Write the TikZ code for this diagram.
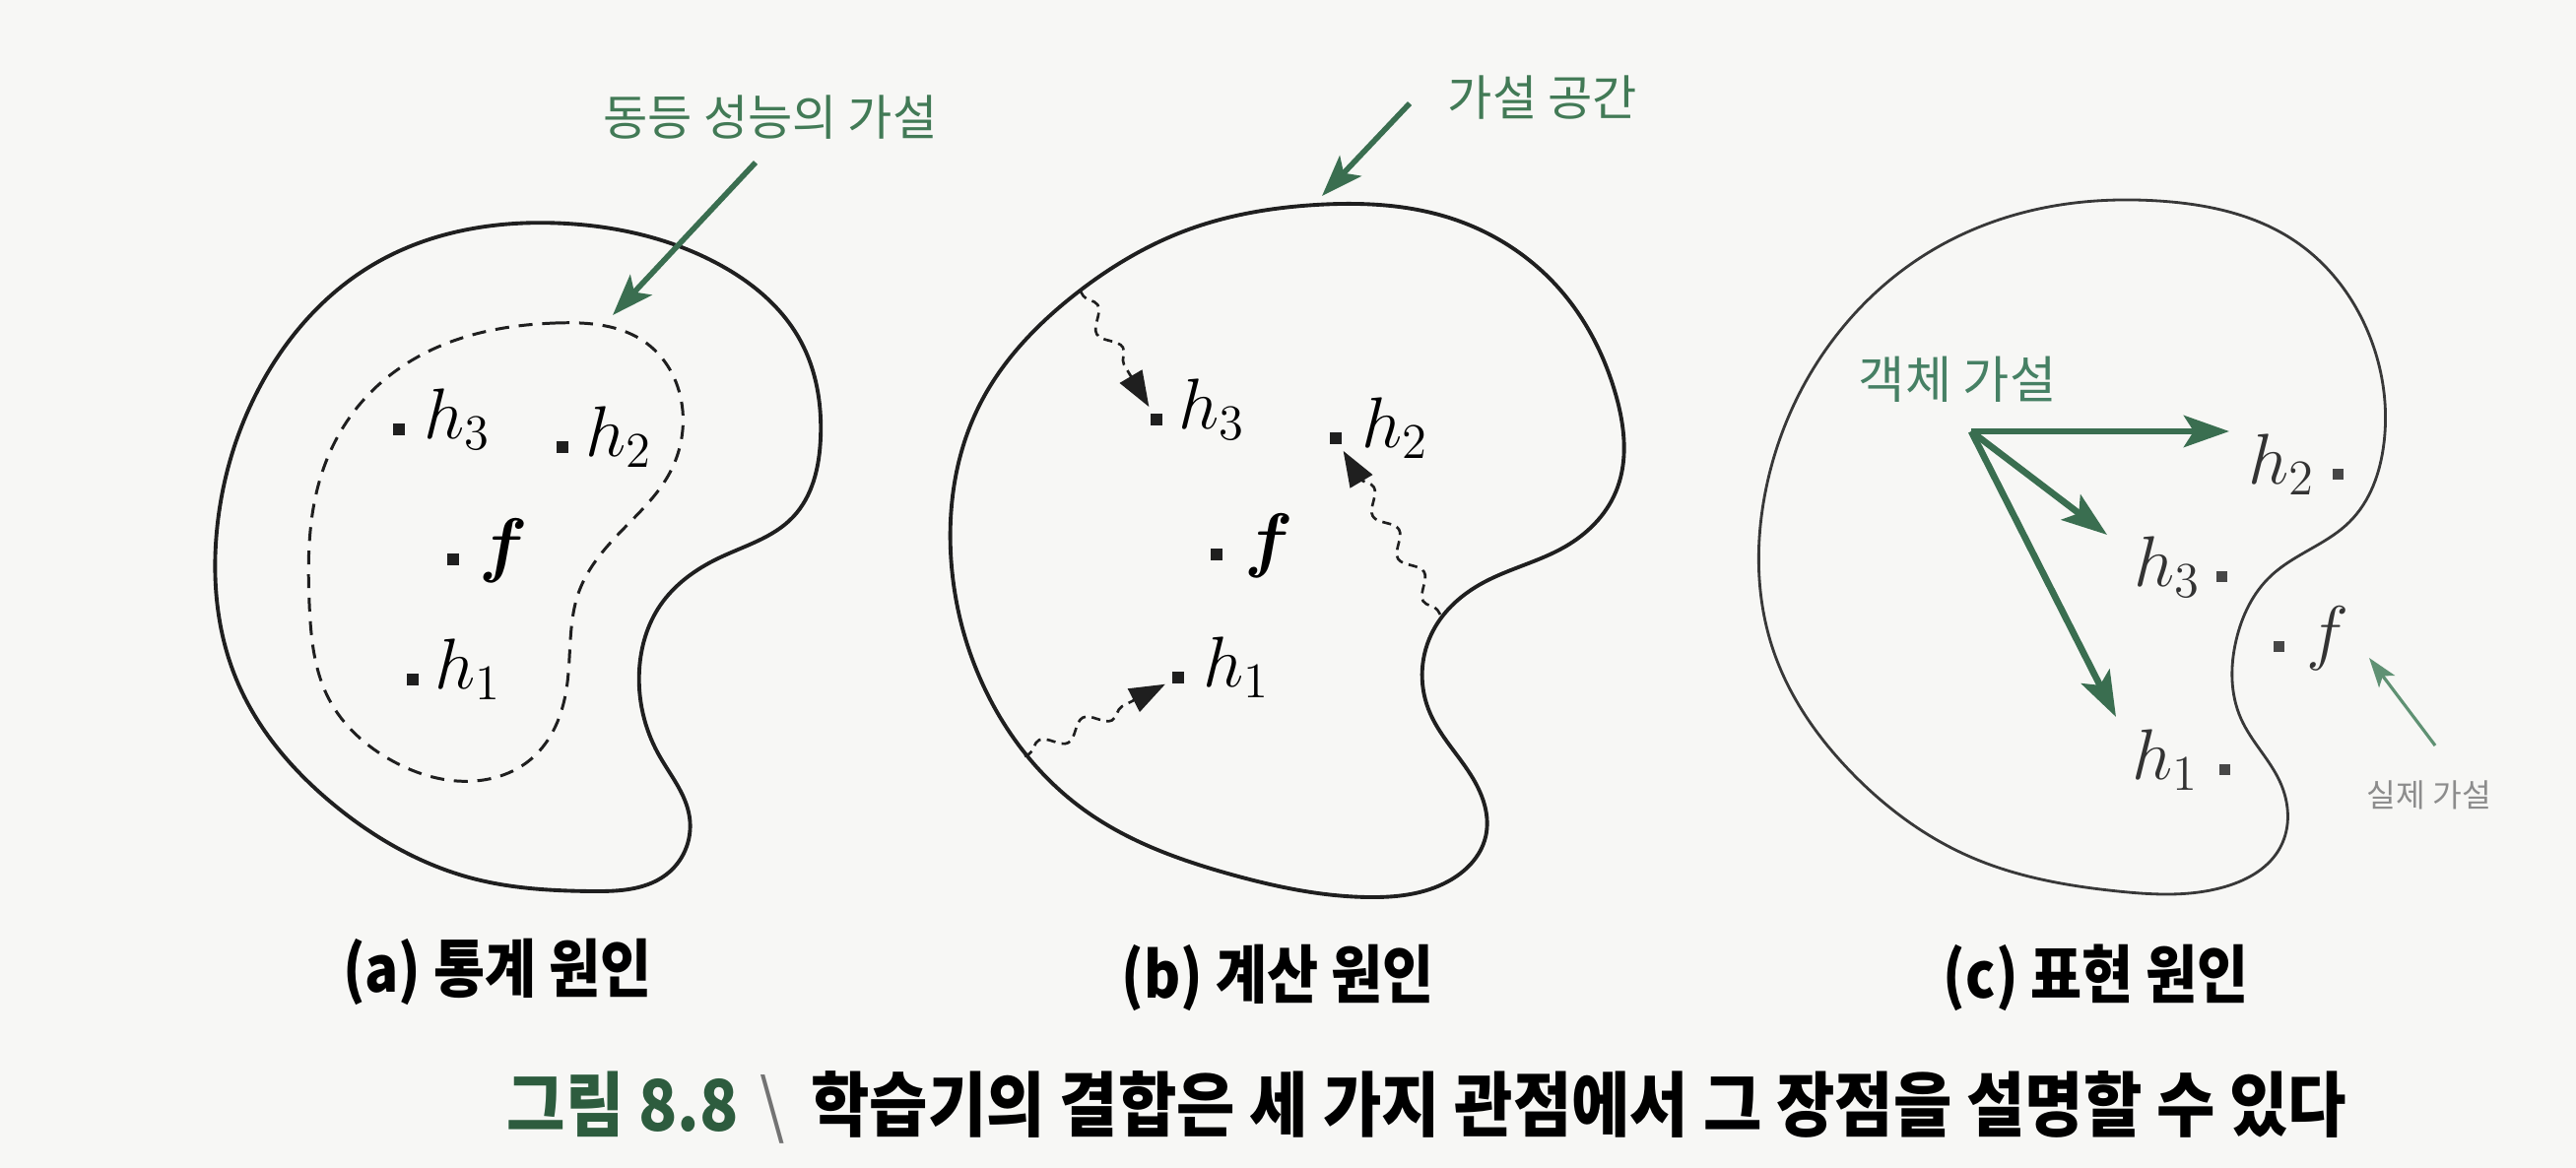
\documentclass[tikz,border=0pt]{standalone}
\usepackage{fontspec}
\usepackage{amsmath}
\usepackage{bm}
\usepackage{graphicx}
\newfontfamily\cjk{Noto Sans CJK KR}
\usetikzlibrary{arrows.meta,decorations.pathmorphing,calc,hobby}
\definecolor{grn}{RGB}{58,110,80}
\definecolor{tgrn}{RGB}{66,122,86}
\definecolor{cgrn}{RGB}{70,128,100}
\definecolor{lgrn}{RGB}{95,145,115}
\definecolor{capgrn}{RGB}{45,92,62}
\definecolor{paper}{RGB}{247,247,245}
\begin{document}
\begin{tikzpicture}[x=0.01cm, y=-0.01cm,
  blob/.style={draw=black!88, line width=1.1pt, use Hobby shortcut, closed=true},
  cblob/.style={draw=black!78, line width=0.8pt, use Hobby shortcut, closed=true},
  innerdash/.style={draw=black!88, line width=0.85pt, dash pattern=on 4pt off 2.8pt, use Hobby shortcut, closed=true},
  dotn/.style={rectangle, fill=black!88, minimum size=0.12cm, inner sep=0pt, outer sep=0pt},
  cdot/.style={rectangle, fill=black!72, minimum size=0.11cm, inner sep=0pt, outer sep=0pt},
  mlbl/.style={inner sep=0pt, font=\fontsize{19.5}{22}\selectfont},
  clbl/.style={inner sep=0pt, font=\fontsize{19.5}{22}\selectfont, text=black!80},
  garrow/.style={draw=grn, line width=1.6pt, -{Stealth[length=0.42cm, width=0.3cm, inset=0.1cm]}},
  carrow/.style={draw=grn, line width=1.9pt, -{Stealth[length=0.46cm, width=0.32cm, inset=0.1cm]}},
  thinarrow/.style={draw=lgrn, line width=0.9pt, -{Stealth[length=0.3cm, width=0.2cm, inset=0.07cm]}},
  wavy/.style={draw=black!88, line width=0.75pt, dash pattern=on 2.6pt off 1.8pt,
    decorate, decoration={snake, amplitude=0.08cm, segment length=0.5cm, pre length=0.05cm, post length=0.34cm},
    -{Triangle[length=0.36cm, width=0.26cm]}, shorten >=0.08cm},
  glbl/.style={inner sep=0pt, text=tgrn, font=\cjk\fontsize{14}{16}\selectfont},
  cglbl/.style={inner sep=0pt, text=cgrn, font=\cjk\fontsize{14.6}{17}\selectfont},
  graylbl/.style={inner sep=0pt, text=black!45, font=\cjk\fontsize{9.2}{11}\selectfont},
  caplbl/.style={inner sep=0pt, font=\cjk\bfseries\fontsize{18.3}{21}\selectfont},
  capmain/.style={inner sep=0pt, font=\cjk\bfseries\fontsize{20.4}{24}\selectfont}
]
\fill[paper] (0,0) rectangle (2615,1186);
\useasboundingbox (0,0) rectangle (2615,1186);

% ---------------- (a) ----------------
\draw[blob] (575,227) .. (729,268) .. (812,345) .. (833,445) .. (805,525) .. (729,567)
 .. (670,615) .. (649,680) .. (668,765) .. (700,830) .. (680,885) .. (600,905) .. (480,892)
 .. (340,818) .. (240,690) .. (220,540) .. (262,396) .. (380,268);
\draw[innerdash] (564,328) .. (657,349) .. (693,417) .. (680,480) .. (630,540) .. (588,600)
 .. (575,700) .. (540,770) .. (482,793) .. (399,773) .. (334,710) .. (314,613) .. (325,486)
 .. (370,405) .. (450,350);
\node[dotn] (a3) at (405,436) {};
\node[dotn] (a2) at (571,454) {};
\node[dotn] (af) at (460,568) {};
\node[dotn] (a1) at (419,690) {};
\node[mlbl, anchor=base west] (a3l) at ($(a3)+(25,10)$) {$h_3$};
\node[mlbl, anchor=base west] (a2l) at ($(a2)+(23,10)$) {$h_2$};
\node[mlbl, anchor=base west] (afl) at ($(af)+(26,10)$) {$\bm{f}$};
\node[mlbl, anchor=base west] (a1l) at ($(a1)+(22,10)$) {$h_1$};
\node[glbl] (la) at (782,119) {동등 성능의 가설};
\coordinate (las) at (767,165);
\coordinate (lat) at (622,320);
\draw[garrow] (las) -- (lat);
\node[caplbl] (capa) at (505,987) {\scalebox{0.88}[1]{(a) 통계 원인}};

% ---------------- (b) ----------------
\draw[blob] (1336,208) .. (1474,222) .. (1580,290) .. (1640,400) .. (1640,500) .. (1589,555)
 .. (1505,592) .. (1455,640) .. (1450,720) .. (1495,790) .. (1508,850) .. (1470,895)
 .. (1388,911) .. (1250,888) .. (1100,822) .. (1000,700) .. (965,560) .. (995,410)
 .. (1090,300) .. (1204,234);
\node[dotn] (b3) at (1174,426) {};
\node[dotn] (b2) at (1356,445) {};
\node[dotn] (bf) at (1235,563) {};
\node[dotn] (b1) at (1196,688) {};
\node[mlbl, anchor=base west] (b3l) at ($(b3)+(22,10)$) {$h_3$};
\node[mlbl, anchor=base west] (b2l) at ($(b2)+(26,10)$) {$h_2$};
\node[mlbl, anchor=base west] (bfl) at ($(bf)+(28,10)$) {$\bm{f}$};
\node[mlbl, anchor=base west] (b1l) at ($(b1)+(25,10)$) {$h_1$};
\coordinate (s3) at (1097,296);
\coordinate (s2) at (1462,624);
\coordinate (s1) at (1040,768);
\draw[wavy] (s3) -- (b3);
\draw[wavy] (s2) -- (b2);
\draw[wavy] (s1) -- (b1);
\node[glbl] (lb) at (1566,99) {가설 공간};
\coordinate (lbs) at (1431,105);
\coordinate (lbt) at (1342,199);
\draw[garrow] (lbs) -- (lbt);
\node[caplbl] (capb) at (1297,993) {\scalebox{0.88}[1]{(b) 계산 원인}};

% ---------------- (c) ----------------
\draw[cblob] (2191,204) .. (2330,245) .. (2405,340) .. (2420,450) .. (2385,530) .. (2305,585)
 .. (2270,650) .. (2275,730) .. (2315,795) .. (2315,860) .. (2260,900) .. (2150,905)
 .. (2000,870) .. (1880,785) .. (1800,660) .. (1792,500) .. (1850,360) .. (1960,255) .. (2080,210);
\node[cdot] (c2) at (2373,482) {};
\node[cdot] (c3) at (2255,586) {};
\node[cdot] (cf) at (2313,657) {};
\node[cdot] (c1) at (2258,782) {};
\node[clbl, anchor=base east] (c2l) at ($(c2)+(-22,10)$) {$h_2$};
\node[clbl, anchor=base east] (c3l) at ($(c3)+(-20,10)$) {$h_3$};
\node[clbl, anchor=base west] (cfl) at ($(cf)+(28,10)$) {$f$};
\node[clbl, anchor=base east] (c1l) at ($(c1)+(-25,10)$) {$h_1$};
\node[cglbl] (lc) at (1987,385) {객체 가설};
\coordinate (o) at (2001,438);
\coordinate (t2) at (2263,438);
\coordinate (t3) at (2139,543);
\coordinate (t1) at (2148,728);
\draw[carrow] (o) -- (t2);
\draw[carrow] (o) -- (t3);
\draw[carrow] (o) -- (t1);
\node[graylbl] (lr) at (2466,807) {실제 가설};
\coordinate (rs) at (2472,757);
\coordinate (rt) at (2405,668);
\draw[thinarrow] (rs) -- (rt);
\node[caplbl] (capc) at (2128,993) {\scalebox{0.88}[1]{(c) 표현 원인}};

% ---------------- caption ----------------
\node[capmain, anchor=west] (cap) at (514,1124) {\scalebox{0.9}[1]{\textcolor{capgrn}{그림 8.8}\hspace{0.24cm}{\mdseries\color{black!55}\textbackslash}\hspace{0.3cm}학습기의 결합은 세 가지 관점에서 그 장점을 설명할 수 있다}};
\end{tikzpicture}
\end{document}
